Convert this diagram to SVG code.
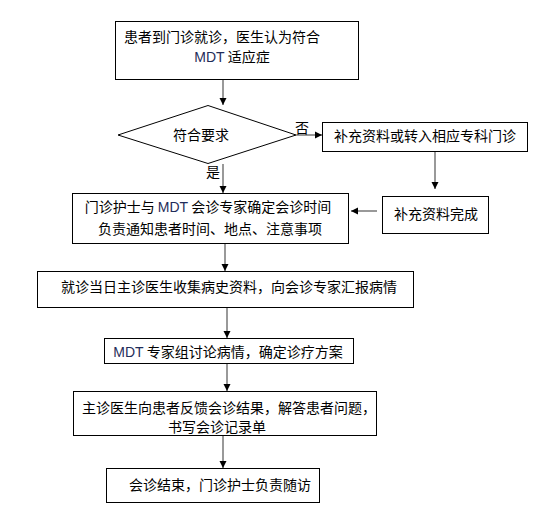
<svg xmlns="http://www.w3.org/2000/svg" width="535" height="513" viewBox="0 0 535 513">
<defs>
<marker id="ah" markerWidth="8" markerHeight="8" refX="7" refY="4" orient="auto" markerUnits="userSpaceOnUse">
<path d="M0,0.5 L7,4 L0,7.5 Z" fill="#000"/>
</marker>
<style>
.box{fill:#fff;stroke:#000;stroke-width:1}
.t{font-family:"Noto Sans CJK SC","Noto Sans",sans-serif;font-size:14px;fill:#000;text-anchor:middle}
.m{font-family:"Liberation Sans",sans-serif;fill:#1f2d5a}
.c{stroke:#555;stroke-width:1.2;fill:none;marker-end:url(#ah)}
</style>
</defs>
<rect width="535" height="513" fill="#fff"/>
<g id="n1"><rect class="box" x="115.5" y="21.5" width="243" height="58"/>
<text class="t" x="222" y="42">患者到门诊就诊，医生认为符合</text>
<text class="t" x="232" y="62"><tspan class="m">MDT</tspan> 适应症</text></g>
<g id="n2"><polygon class="box" points="208,105.5 296,135 208,163.5 118,135"/>
<text class="t" x="201" y="140">符合要求</text></g>
<g id="n3"><rect class="box" x="322.5" y="122.5" width="205" height="29"/>
<text class="t" x="425" y="141">补充资料或转入相应专科门诊</text></g>
<g id="n4"><rect class="box" x="382.5" y="196.5" width="106" height="37"/>
<text class="t" x="436" y="219">补充资料完成</text></g>
<g id="n5"><rect class="box" x="72.5" y="193.5" width="276" height="50"/>
<text class="t" x="208" y="212">门诊护士与 <tspan class="m">MDT</tspan> 会诊专家确定会诊时间</text>
<text class="t" x="210" y="234">负责通知患者时间、地点、注意事项</text></g>
<g id="n6"><rect class="box" x="37.5" y="271.5" width="376" height="36"/>
<text class="t" x="229" y="292">就诊当日主诊医生收集病史资料，向会诊专家汇报病情</text></g>
<g id="n7"><rect class="box" x="104.5" y="338.5" width="249" height="25"/>
<text class="t" x="228" y="357"><tspan class="m">MDT</tspan> 专家组讨论病情，确定诊疗方案</text></g>
<g id="n8"><rect class="box" x="73.5" y="391.5" width="303" height="44"/>
<text class="t" x="229" y="413">主诊医生向患者反馈会诊结果，解答患者问题，</text>
<text class="t" x="217" y="432">书写会诊记录单</text></g>
<g id="n9"><rect class="box" x="106.5" y="468.5" width="213" height="34"/>
<text class="t" x="220" y="490">会诊结束，门诊护士负责随访</text></g>
<g id="connectors">
<line class="c" x1="223" y1="80" x2="223" y2="105"/>
<line class="c" x1="296" y1="135" x2="322" y2="135"/>
<line class="c" x1="435" y1="152" x2="435" y2="189"/>
<line class="c" x1="377" y1="211" x2="351" y2="211"/>
<line class="c" x1="223" y1="164" x2="223" y2="193"/>
<line class="c" x1="225" y1="244" x2="225" y2="271"/>
<line class="c" x1="227" y1="308" x2="227" y2="338"/>
<line class="c" x1="227" y1="364" x2="227" y2="391"/>
<line class="c" x1="223" y1="436" x2="223" y2="468"/>
<text class="t" x="302" y="133">否</text>
<text class="t" x="213" y="177">是</text>
</g>
</svg>
